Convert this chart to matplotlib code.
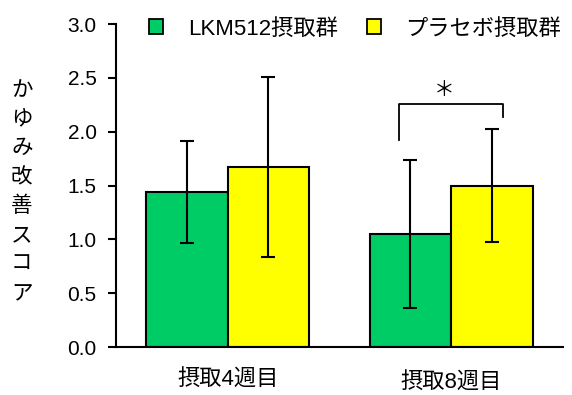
import matplotlib.pyplot as plt
import numpy as np
from matplotlib.patches import Rectangle

plt.rcParams['font.family'] = ['Liberation Sans', 'Noto Sans CJK JP']

periods = ['摂取4週目', '摂取8週目']
groups = ['LKM512摂取群', 'プラセボ摂取群']
lkm_mean = [1.44, 1.05]
lkm_err = [0.475, 0.69]
placebo_mean = [1.67, 1.50]
placebo_err = [0.835, 0.525]
ylabel = 'かゆみ改善スコア'

green = '#00CC66'
yellow = '#FFFF00'

fig = plt.figure(figsize=(5.72, 3.95), dpi=100)
ax = fig.add_axes([0.2028, 0.1215, 0.781, 0.8175])

x = np.arange(len(periods))
w = 0.365
ekw = dict(elinewidth=1.5, capthick=1.5, capsize=5, ecolor='black')
ax.bar(x - w / 2, lkm_mean, w, yerr=lkm_err, color=green, edgecolor='black',
       linewidth=1.5, error_kw=ekw, zorder=2)
ax.bar(x + w / 2, placebo_mean, w, yerr=placebo_err, color=yellow, edgecolor='black',
       linewidth=1.5, error_kw=ekw, zorder=2)

# significance bracket over week 8
i = 1
xl = x[i] - w / 2 - 0.05
xr = x[i] + w / 2 + 0.05
top = 2.26
ax.plot([xl, xl, xr, xr],
        [lkm_mean[i] + lkm_err[i] + 0.18, top, top, placebo_mean[i] + placebo_err[i] + 0.11],
        color='black', lw=1.3, zorder=3)
ax.text(x[i] - 0.03, top + 0.13, '＊', ha='center', va='center', fontsize=15,
        family='Noto Sans CJK JP')

ax.set_xlim(-0.5, 1.5)
ax.set_ylim(0, 3.0)
ax.set_yticks(np.arange(0, 3.01, 0.5))
ax.set_yticklabels([f'{v:.1f}' for v in np.arange(0, 3.01, 0.5)], fontsize=15)
ax.set_xticks(x)
ax.set_xticklabels(periods, fontsize=16)
ax.get_xticklabels()[1].set_y(-0.01)
ax.tick_params(axis='x', length=0, pad=16)
ax.tick_params(axis='y', length=6, width=1.5, pad=8)
for s in ['top', 'right']:
    ax.spines[s].set_visible(False)
for s in ['left', 'bottom']:
    ax.spines[s].set_linewidth(1.5)

fig.text(0.038, 0.514, '\n'.join(ylabel), ha='center', va='center',
         fontsize=15.5, linespacing=1.5)

handles = [Rectangle((0, 0), 1, 1, facecolor=c, edgecolor='black', linewidth=1.3)
           for c in (green, yellow)]
ax.legend(handles, groups, loc='upper left', bbox_to_anchor=(0.054, 1.045), ncol=2,
          frameon=False, fontsize=16, handlelength=0.65, handleheight=0.65,
          handletextpad=1.1, columnspacing=1.3, borderaxespad=0)

fig.savefig('out.png', dpi=100)
